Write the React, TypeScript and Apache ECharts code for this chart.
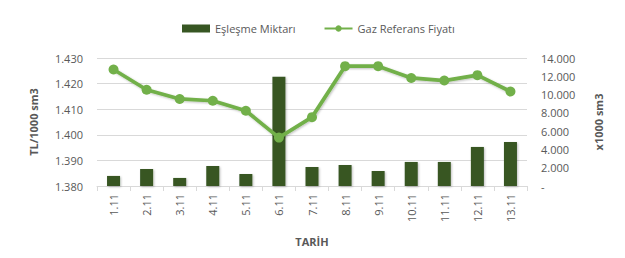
import React, { useEffect, useRef } from "react";
import * as echarts from "echarts";

const categories = ["1.11", "2.11", "3.11", "4.11", "5.11", "6.11", "7.11", "8.11", "9.11", "10.11", "11.11", "12.11", "13.11"];
const matchVolume = [1100, 1860, 880, 2190, 1310, 11950, 2080, 2300, 1640, 2630, 2630, 4270, 4810];
const refPrice = [1425.5, 1417.6, 1414.0, 1413.3, 1409.4, 1398.9, 1406.9, 1426.8, 1426.8, 1422.2, 1421.2, 1423.3, 1416.9];

const fmt = (v: number) => {
  const s = Math.round(v).toString();
  return s.replace(/\B(?=(\d{3})+(?!\d))/g, ".");
};

const FONT = "Open Sans";
const GRAY = "#595959";

export default function App() {
  const ref = useRef<HTMLDivElement>(null);
  useEffect(() => {
    if (!ref.current) return;
    const chart = echarts.init(ref.current, undefined, { renderer: "svg" });
    chart.setOption({
      animation: false,
      textStyle: { fontFamily: FONT },
      legend: {
        top: 23,
        left: 182,
        padding: 0,
        itemGap: 28,
        itemWidth: 28,
        itemHeight: 8,
        textStyle: { color: GRAY, fontSize: 11, fontFamily: FONT },
        data: [
          { name: "Eşleşme Miktarı", icon: "rect" },
          { name: "Gaz Referans Fiyatı" },
        ],
      },
      grid: { left: 97, right: 98, top: 58, bottom: 72 },
      xAxis: {
        type: "category",
        data: categories,
        name: "TARİH",
        nameLocation: "middle",
        nameGap: 50,
        nameTextStyle: { color: GRAY, fontWeight: "bold", fontSize: 11 },
        axisLine: { lineStyle: { color: "#d9d9d9" } },
        axisTick: { show: true, length: 5, lineStyle: { color: "#d9d9d9" } },
        axisLabel: { rotate: 90, color: GRAY, fontSize: 11, margin: 8 },
      },
      yAxis: [
        {
          type: "value",
          min: 1380,
          max: 1430,
          interval: 10,
          name: "TL/1000 sm3",
          nameLocation: "middle",
          nameRotate: 90,
          nameGap: 58,
          nameTextStyle: { color: GRAY, fontWeight: "bold", fontSize: 11 },
          axisLine: { show: false },
          axisTick: { show: false },
          axisLabel: { color: GRAY, fontSize: 11, margin: 14, formatter: (v: number) => fmt(v) },
          splitLine: { lineStyle: { color: "#d9d9d9" } },
        },
        {
          type: "value",
          min: 0,
          max: 14000,
          interval: 2000,
          name: "x1000 sm3",
          nameLocation: "middle",
          nameRotate: 90,
          nameGap: 66,
          nameTextStyle: { color: GRAY, fontWeight: "bold", fontSize: 11 },
          axisLine: { show: false },
          axisTick: { show: false },
          axisLabel: { color: GRAY, fontSize: 11, margin: 14, formatter: (v: number) => (v === 0 ? "-" : fmt(v)) },
          splitLine: { show: false },
        },
      ],
      series: [
        {
          name: "Eşleşme Miktarı",
          type: "bar",
          yAxisIndex: 1,
          data: matchVolume,
          barWidth: 13,
          itemStyle: { color: "#375623", shadowColor: "rgba(0,0,0,0.25)", shadowBlur: 2, shadowOffsetX: 1, shadowOffsetY: 1 },
        },
        {
          name: "Gaz Referans Fiyatı",
          type: "line",
          yAxisIndex: 0,
          data: refPrice,
          symbol: "circle",
          symbolSize: 10,
          lineStyle: { color: "#72B04A", width: 3.75, shadowColor: "rgba(0,0,0,0.25)", shadowBlur: 2, shadowOffsetX: 1, shadowOffsetY: 1 },
          itemStyle: { color: "#72B04A" },
        },
      ],
    });
    return () => chart.dispose();
  }, []);
  return <div ref={ref} style={{ width: 625, height: 258, position: "absolute", left: 0, top: 0 }} />;
}
